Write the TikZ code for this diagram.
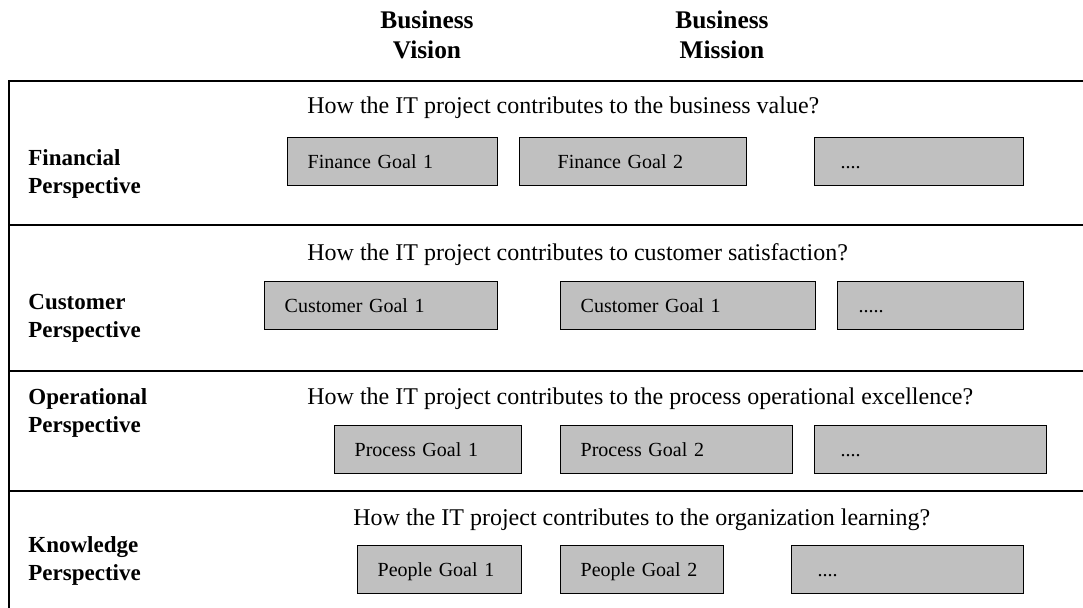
\documentclass[tikz,border=0pt]{standalone}
\usepackage{fontspec}
\setmainfont{Liberation Serif}
\usepackage{tikz}
\usetikzlibrary{positioning}

\definecolor{goalgray}{RGB}{192,192,192}

\begin{document}
\begin{tikzpicture}[x=0.5pt, y=-0.5pt,
	goal/.style 2 args={draw, fill=goalgray, line width=0.7pt, anchor=north west,
		minimum height=24pt, inner ysep=0pt, align=left,
		text height=8pt, text depth=1pt,
		text width=#1, inner xsep=#2, font=\fontsize{10}{12}\selectfont},
	persp/.style={anchor=west, align=left, inner sep=0pt,
		font=\bfseries\fontsize{11.5}{14}\selectfont},
	quest/.style={anchor=west, inner sep=0pt, font=\fontsize{12}{14}\selectfont},
	head/.style={align=center, inner sep=0pt, font=\bfseries\fontsize{12.7}{15}\selectfont},
	sep/.style={line width=1pt}]
			\useasboundingbox (0,0) rectangle (1083,608);

			% column headings
			\node[head] (V) at (427,35) {Business\\Vision};
			\node[head] (M) at (722,35) {Business\\Mission};

			% frame and row separators
			\draw[line width=0.6pt] (1083,81) -- (9,81) -- (9,608);
			\draw[sep] (9,225) -- (1083,225);
			\draw[sep] (9,371) -- (1083,371);
			\draw[sep] (9,491) -- (1083,491);

			% financial row
			\node[persp] (FP) at (28,174) {Financial\\Perspective};
			\node[quest] (FQ) at (307,108) {How the IT project contributes to the business value?};
			\node[goal={85pt}{10pt}] (F1) at (287,137) {Finance Goal 1};
			\node[goal={75.5pt}{19pt}] (F2) at (519,137) {Finance Goal 2};
			\node[goal={78.5pt}{13pt}] (F3) at (814,137) {....};

			% customer row
			\node[persp] (CP) at (28,318) {Customer\\Perspective};
			\node[quest] (CQ) at (307,255) {How the IT project contributes to customer satisfaction?};
			\node[goal={96.5pt}{10pt}] (C1) at (264,281) {Customer Goal 1};
			\node[goal={107.5pt}{10pt}] (C2) at (560,281) {Customer Goal 1};
			\node[goal={72pt}{10.5pt}] (C3) at (837,281) {.....};

			% operational row
			\node[persp] (OP) at (28,413) {Operational\\Perspective};
			\node[quest] (OQ) at (307,399) {How the IT project contributes to the process operational excellence?};
			\node[goal={73.5pt}{10pt}] (O1) at (334,425) {Process Goal 1};
			\node[goal={96pt}{10pt}] (O2) at (560,425) {Process Goal 2};
			\node[goal={90pt}{13pt}] (O3) at (814,425) {....};

			% knowledge row
			\node[persp] (KP) at (28,561) {Knowledge\\Perspective};
			\node[quest] (KQ) at (353,520) {How the IT project contributes to the organization learning?};
			\node[goal={62pt}{10pt}] (K1) at (357,545) {People Goal 1};
			\node[goal={61.5pt}{10pt}] (K2) at (560,545) {People Goal 2};
			\node[goal={90pt}{13pt}] (K3) at (791,545) {....};
		\end{tikzpicture}
\end{document}
